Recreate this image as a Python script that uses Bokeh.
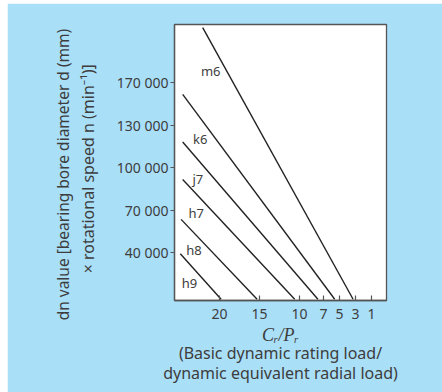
from bokeh.plotting import figure
from bokeh.models import Range1d, FixedTicker, LinearAxis, ColumnDataSource
from bokeh.core.properties import value
from bokeh.embed import file_html
from bokeh.resources import INLINE

# ---- data ----
fits = ["m6", "k6", "j7", "h7", "h8", "h9"]
# x = Cr/Pr (reversed axis), y = position on the dn scale in tick steps
cr_pr_start = [22.1, 24.6, 24.6, 24.6, 24.8, 24.9]
dn_start = [6.29, 4.72, 3.60, 2.72, 1.78, 0.97]
cr_pr_end = [3.3, 5.6, 7.7, 10.6, 15.3, 19.8]
dn_end = [-0.1, -0.1, -0.1, -0.1, -0.1, -0.1]
fit_label_x = [21.1, 22.4, 22.7, 22.9, 23.2, 23.75]
fit_label_y = [5.26, 3.66, 2.74, 1.94, 1.07, 0.29]
x_ticks = [20, 15, 10, 7, 5, 3, 1]
y_ticks = [1, 2, 3, 4, 5]
y_tick_labels = ["40 000", "70 000", "100 000", "130 000", "170 000"]

NB = "\u00a0"  # trailing padding shifts the centred rotated titles downward
y_title_1 = "dn value [bearing bore diameter d (mm)" + NB * 6
y_title_2 = "\u00d7 rotational speed n (min\u207b\u00b9)]" + NB * 3
x_title_1 = "C\u1d63/P\u1d63"
x_title_2 = "(Basic dynamic rating load/\ndynamic equivalent radial load)"

BG = "#AADFF8"
TXT = "#3d3d3d"
SANS = "Noto Sans"
SERIF = "Liberation Serif"

OX, OY = 7, 3            # figure offset on the page (margin)
FL, FT, FW, FH = 167, 21, 212, 276  # frame left/top inside the figure, frame size
W, H = 435, 389

p = figure(
    width=W, height=H, frame_width=FW, frame_height=FH,
    x_range=Range1d(25.625, -0.875), y_range=Range1d(-0.129, 6.365),
    output_backend="svg", toolbar_location=None,
    min_border_left=FL, min_border_top=FT,
    min_border_right=W - FL - FW, min_border_bottom=H - FT - FH,
)
p.title.visible = False
p.margin = (OY, 0, 0, OX)
p.background_fill_color = "white"
p.border_fill_color = BG
p.outline_line_color = "#555555"
p.outline_line_width = 1.3
p.grid.visible = False

for ax in (p.xaxis[0], p.yaxis[0]):
    ax.axis_line_color = "#555555"
    ax.axis_line_width = 1.3
    ax.major_tick_line_color = "#555555"
    ax.major_tick_line_width = 1.2
    ax.minor_tick_line_color = None
    ax.major_label_text_font = SANS
    ax.major_label_text_font_size = "14px"
    ax.major_label_text_color = TXT
    ax.axis_label_text_color = TXT

p.xaxis.ticker = FixedTicker(ticks=x_ticks)
p.xaxis.major_tick_in = 5
p.xaxis.major_tick_out = 0
p.xaxis.major_label_standoff = 8
p.xaxis.axis_label = x_title_1
p.xaxis.axis_label_text_font = SERIF
p.xaxis.axis_label_text_font_style = "italic"
p.xaxis.axis_label_text_font_size = "18px"
p.xaxis.axis_label_standoff = 3

p.yaxis.ticker = FixedTicker(ticks=y_ticks)
p.yaxis.major_label_overrides = {t: s for t, s in zip(y_ticks, y_tick_labels)}
p.yaxis.major_tick_in = 0
p.yaxis.major_tick_out = 4
p.yaxis.major_label_standoff = 2
p.yaxis.axis_label = y_title_2
p.yaxis.axis_label_text_font = SANS
p.yaxis.axis_label_text_font_style = "normal"
p.yaxis.axis_label_text_font_size = "16px"
p.yaxis.axis_label_standoff = 15


def title_axis(label, size="16px", standoff=0, line_height=1.2):
    return LinearAxis(ticker=FixedTicker(ticks=[]), axis_line_color=None,
                      major_tick_line_color=None, minor_tick_line_color=None,
                      major_label_text_font_size="0px", axis_label=label,
                      axis_label_text_font=SANS, axis_label_text_font_size=size,
                      axis_label_text_font_style="normal", axis_label_standoff=standoff,
                      axis_label_text_line_height=line_height,
                      axis_label_text_color=TXT)


p.add_layout(title_axis(y_title_1, "15.5px", 0), "left")
p.add_layout(title_axis(x_title_2, "16px", -6, 0.92), "below")

src = ColumnDataSource(dict(x0=cr_pr_start, y0=dn_start, x1=cr_pr_end, y1=dn_end,
                            lx=fit_label_x, ly=fit_label_y, name=fits))
p.segment("x0", "y0", "x1", "y1", source=src, line_color="#222222", line_width=1.4)
p.text("lx", "ly", text="name", source=src, text_font=value(SANS),
       text_font_size="13px", text_color=TXT, text_align="center",
       text_baseline="middle")

open("out.html", "w").write(file_html(p, INLINE))
